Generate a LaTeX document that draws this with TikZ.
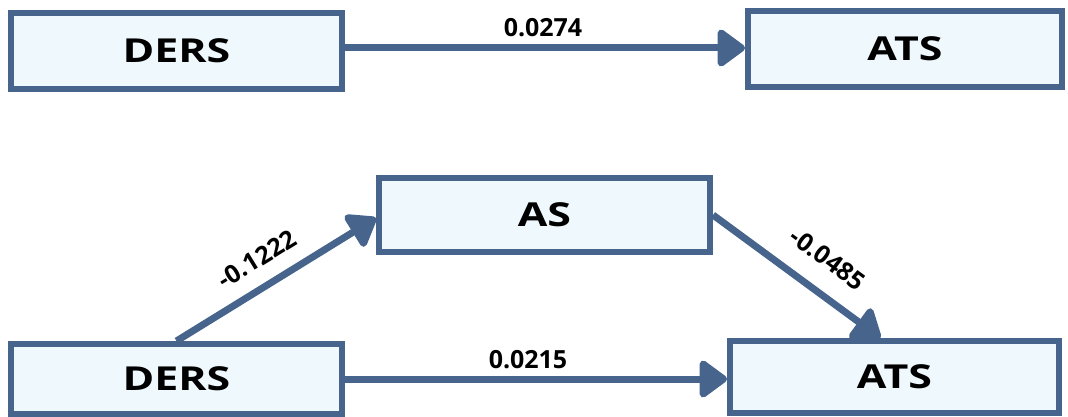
\documentclass[tikz,border=0pt]{standalone}
\usepackage{fontspec}
\setmainfont{Open Sans}
\newfontfamily\boxfont{Open Sans}[FakeStretch=1.3]
\usetikzlibrary{arrows.meta}
\definecolor{edge}{HTML}{46648C}
\definecolor{boxfill}{HTML}{EEF8FD}
\tikzset{
  varbox/.style={draw=edge, line width=6pt, fill=boxfill, inner sep=0pt,
    font=\boxfont\bfseries\fontsize{33}{33}\selectfont},
  arr/.style={draw=edge, line width=7pt,
    -{Triangle[round, length=30pt, width=42pt]}},
  coef/.style={font=\bfseries\fontsize{25}{25}\selectfont, inner sep=0pt}
}
\begin{document}
\begin{tikzpicture}[x=1pt, y=-1pt]
\useasboundingbox (0,0) rectangle (1068,417);
\node[varbox, minimum width=331pt, minimum height=76pt] (ders1) at (176.5,51) {DERS};
\node[varbox, minimum width=314pt, minimum height=76pt] (ats1) at (905,49) {ATS};
\node[varbox, minimum width=331pt, minimum height=74pt] (as) at (544.5,215) {AS};
\node[varbox, minimum width=329pt, minimum height=72pt] (ats2) at (894.5,377) {ATS};
\node[varbox, minimum width=331pt, minimum height=70pt] (ders2) at (176.5,379) {DERS};

\draw[arr] ([yshift=3pt]ders1.east) -- ([yshift=3pt]ders1.east -| ats1.west);
\draw[arr] (ders2.east) -- (ders2.east -| ats2.west);
\draw[arr] (ders2.north) -- ([yshift=-3pt]as.west);
\draw[arr] (as.east) -- ([xshift=-14pt]ats2.north);

\node[coef] (l1) at (543,28) {0.0274};
\node[coef] (l2) at (528,360) {0.0215};
\node[coef, rotate=31.6] (l3) at (257,259) {-0.1222};
\node[coef, rotate=-36.6] (l4) at (828,259) {-0.0485};
\end{tikzpicture}
\end{document}
